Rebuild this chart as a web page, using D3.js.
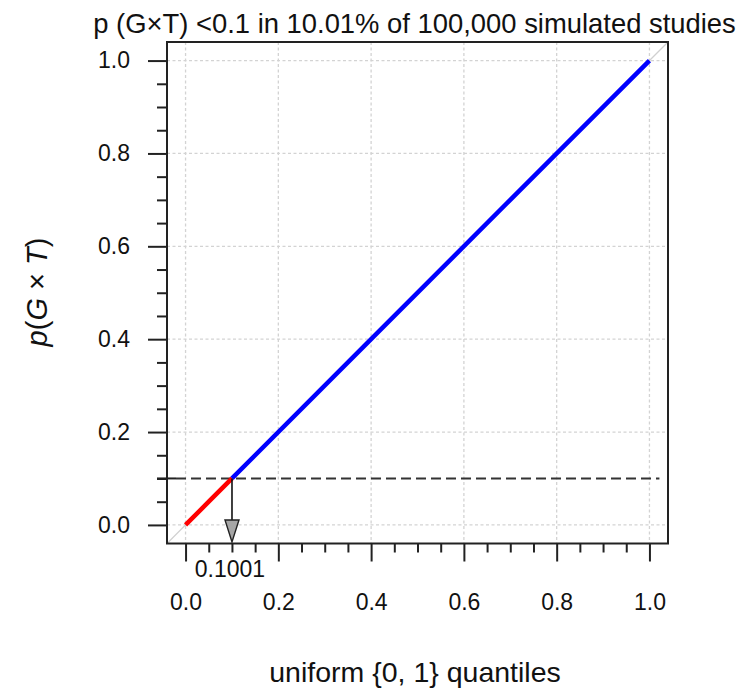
<!DOCTYPE html>
<html>
<head>
<meta charset="utf-8">
<script src="https://cdn.jsdelivr.net/npm/d3@7"></script>
<style>
  html, body { margin: 0; padding: 0; background: #fff; }
  text { font-family: "Liberation Sans", Arial, sans-serif; fill: #111; }
</style>
</head>
<body>
<svg id="chart"></svg>
<script>
const sigQuantiles = [0, 0.05, 0.1001];
const sigPValues = [0, 0.05, 0.1001];
const restQuantiles = [0.1001, 0.4, 0.7, 1.0];
const restPValues = [0.1001, 0.4, 0.7, 1.0];

const majorTicks = [0, 0.2, 0.4, 0.6, 0.8, 1.0];
const minorTicks = [0.05, 0.1, 0.15, 0.25, 0.3, 0.35, 0.45, 0.5, 0.55, 0.65, 0.7, 0.75, 0.85, 0.9, 0.95];
const alphaLevel = 0.1001;
const crossQuantile = 0.1001;
const alphaLabel = "0.1001";

const titleText = "p (G\u00d7T) <0.1 in 10.01% of 100,000 simulated studies";
const xTitle = "uniform {0, 1} quantiles";

const width = 756, height = 688;
const box = { left: 167, right: 668, top: 42, bottom: 543.5 };

const svg = d3.select("#chart")
  .attr("width", width)
  .attr("height", height)
  .attr("viewBox", [0, 0, width, height]);

const x = d3.scaleLinear().domain([-0.04, 1.04]).range([box.left, box.right]);
const y = d3.scaleLinear().domain([-0.04, 1.04]).range([box.bottom, box.top]);

// grid
const grid = svg.append("g")
  .attr("stroke", "#d3d3d3")
  .attr("stroke-width", 1.3)
  .attr("stroke-dasharray", "3,2.5");
grid.selectAll(".gx").data(majorTicks).join("line")
  .attr("x1", d => x(d)).attr("x2", d => x(d))
  .attr("y1", box.top).attr("y2", box.bottom);
grid.selectAll(".gy").data(majorTicks).join("line")
  .attr("y1", d => y(d)).attr("y2", d => y(d))
  .attr("x1", box.left).attr("x2", box.right);

// identity line
svg.append("line")
  .attr("x1", x(-0.04)).attr("y1", y(-0.04))
  .attr("x2", x(1.04)).attr("y2", y(1.04))
  .attr("stroke", "#d0d0d0")
  .attr("stroke-width", 1.2);

// alpha threshold
svg.append("line")
  .attr("x1", box.left + 9).attr("x2", x(1.0215))
  .attr("y1", y(alphaLevel)).attr("y2", y(alphaLevel))
  .attr("stroke", "#333")
  .attr("stroke-width", 2)
  .attr("stroke-dasharray", "10,5");
svg.append("line")
  .attr("x1", box.left - 10).attr("x2", box.left + 9)
  .attr("y1", y(alphaLevel)).attr("y2", y(alphaLevel))
  .attr("stroke", "#222")
  .attr("stroke-width", 2);

// qq lines
const line = d3.line().x(d => x(d[0])).y(d => y(d[1]));
svg.append("path")
  .attr("d", line(d3.zip(restQuantiles, restPValues)))
  .attr("fill", "none")
  .attr("stroke", "#0000ff")
  .attr("stroke-width", 4.5);
svg.append("path")
  .attr("d", line(d3.zip(sigQuantiles, sigPValues)))
  .attr("fill", "none")
  .attr("stroke", "#ff0000")
  .attr("stroke-width", 4.5);

// arrow down to the axis
const ax = x(crossQuantile);
const tipY = y(-0.04) - 1.5;
const headH = 22, headW = 7;
svg.append("line")
  .attr("x1", ax).attr("x2", ax)
  .attr("y1", y(alphaLevel)).attr("y2", tipY - headH)
  .attr("stroke", "#111")
  .attr("stroke-width", 1.6);
svg.append("path")
  .attr("d", `M${ax - headW},${tipY - headH} L${ax + headW},${tipY - headH} L${ax},${tipY} Z`)
  .attr("fill", "#a6a6a6")
  .attr("stroke", "#222")
  .attr("stroke-width", 1.4);

// box
svg.append("rect")
  .attr("x", box.left).attr("y", box.top)
  .attr("width", box.right - box.left).attr("height", box.bottom - box.top)
  .attr("fill", "none")
  .attr("stroke", "#222")
  .attr("stroke-width", 2);

// axes
const styleAxis = g => {
  g.select(".domain").remove();
  g.selectAll(".tick line").attr("stroke", "#222").attr("stroke-width", 2);
  g.selectAll(".tick text")
    .attr("font-family", "'Liberation Sans', Arial, sans-serif")
    .attr("font-size", 23)
    .attr("fill", "#111");
};

svg.append("g")
  .attr("transform", `translate(0,${box.bottom})`)
  .call(d3.axisBottom(x).tickValues(majorTicks).tickSizeInner(18).tickSizeOuter(0)
    .tickPadding(32).tickFormat(d3.format(".1f")))
  .call(styleAxis);
svg.append("g")
  .attr("transform", `translate(0,${box.bottom})`)
  .call(d3.axisBottom(x).tickValues(minorTicks).tickSizeInner(9).tickSizeOuter(0).tickFormat(""))
  .call(styleAxis);

svg.append("g")
  .attr("transform", `translate(${box.left},0)`)
  .call(d3.axisLeft(y).tickValues(majorTicks).tickSizeInner(19).tickSizeOuter(0)
    .tickPadding(18).tickFormat(d3.format(".1f")))
  .call(styleAxis);
svg.append("g")
  .attr("transform", `translate(${box.left},0)`)
  .call(d3.axisLeft(y).tickValues(minorTicks).tickSizeInner(10).tickSizeOuter(0).tickFormat(""))
  .call(styleAxis);

// crossing label
svg.append("text")
  .attr("x", ax - 2).attr("y", 576.5)
  .attr("text-anchor", "middle")
  .attr("font-size", 23)
  .text(alphaLabel);

// titles
svg.append("text")
  .attr("x", 414.5).attr("y", 33)
  .attr("text-anchor", "middle")
  .attr("font-size", 27.4)
  .text(titleText);

svg.append("text")
  .attr("x", 415).attr("y", 681.5)
  .attr("text-anchor", "middle")
  .attr("font-size", 28.5)
  .text(xTitle);

const yLab = svg.append("text")
  .attr("transform", "translate(47,292) rotate(-90)")
  .attr("text-anchor", "middle")
  .attr("font-size", 29);
yLab.append("tspan").attr("font-style", "italic").text("p");
yLab.append("tspan").text("(");
yLab.append("tspan").attr("font-style", "italic").text("G");
yLab.append("tspan").text(" \u00d7 ");
yLab.append("tspan").attr("font-style", "italic").text("T");
yLab.append("tspan").text(")");
</script>
</body>
</html>
